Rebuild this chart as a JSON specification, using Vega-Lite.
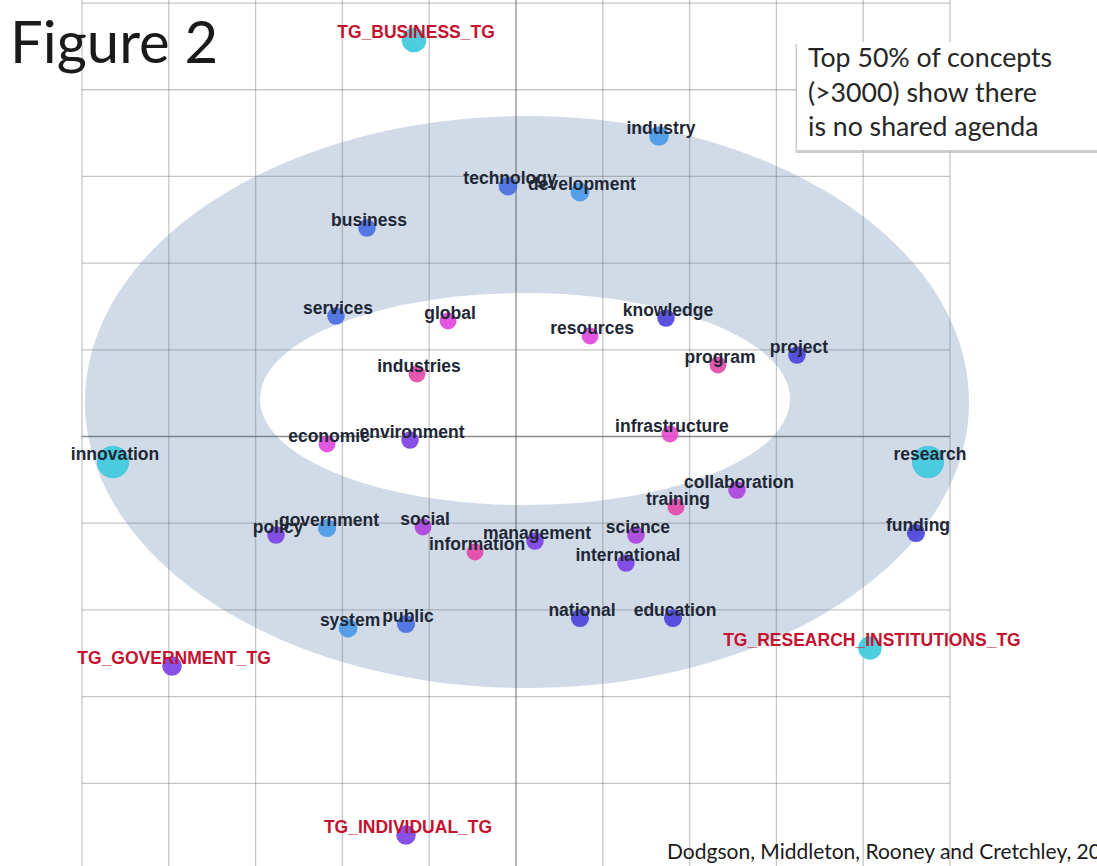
{
  "$schema": "https://vega.github.io/schema/vega-lite/v6.json",
  "width": 1097,
  "height": 866,
  "autosize": {"type": "none"},
  "padding": 0,
  "background": "white",
  "config": {"view": {"stroke": null}},
  "datasets": {
    "concepts": [
      {"term": "TG_BUSINESS_TG", "kind": "TG", "group": "cyan", "freq": 55, "x": -1.175, "y": 4.573},
      {"term": "industry", "kind": "concept", "group": "sky", "freq": 35, "x": 1.647, "y": 3.466},
      {"term": "technology", "kind": "concept", "group": "royal", "freq": 32, "x": -0.092, "y": 2.889},
      {"term": "development", "kind": "concept", "group": "sky", "freq": 32, "x": 0.737, "y": 2.82},
      {"term": "business", "kind": "concept", "group": "royal", "freq": 28, "x": -1.717, "y": 2.405},
      {"term": "services", "kind": "concept", "group": "royal", "freq": 28, "x": -2.074, "y": 1.39},
      {"term": "global", "kind": "concept", "group": "magenta", "freq": 26, "x": -0.783, "y": 1.332},
      {"term": "resources", "kind": "concept", "group": "magenta", "freq": 26, "x": 0.853, "y": 1.159},
      {"term": "knowledge", "kind": "concept", "group": "indigo", "freq": 28, "x": 1.728, "y": 1.367},
      {"term": "program", "kind": "concept", "group": "pink", "freq": 26, "x": 2.327, "y": 0.825},
      {"term": "project", "kind": "concept", "group": "indigo", "freq": 28, "x": 3.237, "y": 0.94},
      {"term": "industries", "kind": "concept", "group": "pink", "freq": 26, "x": -1.141, "y": 0.721},
      {"term": "infrastructure", "kind": "concept", "group": "pinkmag", "freq": 26, "x": 1.774, "y": 0.029},
      {"term": "economic", "kind": "concept", "group": "magenta", "freq": 26, "x": -2.177, "y": -0.087},
      {"term": "environment", "kind": "concept", "group": "purple", "freq": 28, "x": -1.221, "y": -0.04},
      {"term": "innovation", "kind": "concept", "group": "cyan", "freq": 95, "x": -4.643, "y": -0.294},
      {"term": "research", "kind": "concept", "group": "cyan", "freq": 95, "x": 4.747, "y": -0.294},
      {"term": "collaboration", "kind": "concept", "group": "violet", "freq": 28, "x": 2.546, "y": -0.617},
      {"term": "training", "kind": "concept", "group": "pink", "freq": 26, "x": 1.843, "y": -0.813},
      {"term": "government", "kind": "concept", "group": "sky", "freq": 30, "x": -2.177, "y": -1.055},
      {"term": "policy", "kind": "concept", "group": "purple", "freq": 28, "x": -2.765, "y": -1.136},
      {"term": "social", "kind": "concept", "group": "violet", "freq": 26, "x": -1.071, "y": -1.044},
      {"term": "management", "kind": "concept", "group": "purple", "freq": 28, "x": 0.219, "y": -1.205},
      {"term": "information", "kind": "concept", "group": "pink", "freq": 26, "x": -0.472, "y": -1.332},
      {"term": "science", "kind": "concept", "group": "violet", "freq": 28, "x": 1.382, "y": -1.136},
      {"term": "international", "kind": "concept", "group": "purple", "freq": 28, "x": 1.267, "y": -1.459},
      {"term": "funding", "kind": "concept", "group": "indigo", "freq": 30, "x": 4.608, "y": -1.113},
      {"term": "national", "kind": "concept", "group": "indigo", "freq": 30, "x": 0.737, "y": -2.093},
      {"term": "education", "kind": "concept", "group": "indigo", "freq": 30, "x": 1.809, "y": -2.093},
      {"term": "system", "kind": "concept", "group": "sky", "freq": 32, "x": -1.935, "y": -2.209},
      {"term": "public", "kind": "concept", "group": "royal", "freq": 30, "x": -1.267, "y": -2.163},
      {"term": "TG_GOVERNMENT_TG", "kind": "TG", "group": "purple", "freq": 35, "x": -3.963, "y": -2.647},
      {"term": "TG_RESEARCH_INSTITUTIONS_TG", "kind": "TG", "group": "cyan", "freq": 50, "x": 4.078, "y": -2.439},
      {"term": "TG_INDIVIDUAL_TG", "kind": "TG", "group": "purple", "freq": 35, "x": -1.267, "y": -4.596}
    ],
    "grid": [
      {"v": -5}, {"v": -4}, {"v": -3}, {"v": -2}, {"v": -1}, {"v": 0},
      {"v": 1}, {"v": 2}, {"v": 3}, {"v": 4}, {"v": 5}
    ]
  },
  "encoding": {
    "x": {"type": "quantitative", "axis": null, "scale": {"domain": [-5.945, 6.694], "nice": false, "zero": false}},
    "y": {"type": "quantitative", "axis": null, "scale": {"domain": [-4.954, 5.035], "nice": false, "zero": false}}
  },
  "layer": [
    {
      "data": {"values": [{"cx": 0.127, "cy": 0.398}]},
      "mark": {"type": "point", "filled": true, "color": "#d1dbe8", "opacity": 1, "strokeWidth": 0, "size": 781456,
        "shape": "M 1 0 C 1 0.3573 0.5523 0.647 0 0.647 C -0.5523 0.647 -1 0.3573 -1 0 C -1 -0.3573 -0.5523 -0.647 0 -0.647 C 0.5523 -0.647 1 -0.3573 1 0 Z"},
      "encoding": {"x": {"field": "cx", "type": "quantitative"}, "y": {"field": "cy", "type": "quantitative"}}
    },
    {
      "data": {"values": [{"cx": 0.104, "cy": 0.433}]},
      "mark": {"type": "point", "filled": true, "color": "#ffffff", "opacity": 1, "strokeWidth": 0, "size": 280900,
        "shape": "M 1 0 C 1 0.2209 0.5523 0.4 0 0.4 C -0.5523 0.4 -1 0.2209 -1 0 C -1 -0.2209 -0.5523 -0.4 0 -0.4 C 0.5523 -0.4 1 -0.2209 1 0 Z"},
      "encoding": {"x": {"field": "cx", "type": "quantitative"}, "y": {"field": "cy", "type": "quantitative"}}
    },
    {
      "data": {"name": "grid"},
      "mark": {"type": "rule", "strokeWidth": 1.3},
      "encoding": {
        "x": {"field": "v", "type": "quantitative"},
        "y": {"datum": -5},
        "y2": {"datum": 5.035},
        "color": {"condition": {"test": "datum.v === 0", "value": "#505050"}, "value": "#707070"},
        "opacity": {"condition": {"test": "datum.v === 0", "value": 0.65}, "value": 0.4}
      }
    },
    {
      "data": {"name": "grid"},
      "mark": {"type": "rule", "strokeWidth": 1.3},
      "encoding": {
        "y": {"field": "v", "type": "quantitative"},
        "x": {"datum": -5},
        "x2": {"datum": 5},
        "color": {"condition": {"test": "datum.v === 0", "value": "#505050"}, "value": "#707070"},
        "opacity": {"condition": {"test": "datum.v === 0", "value": 0.65}, "value": 0.4}
      }
    },
    {
      "data": {"name": "concepts"},
      "mark": {"type": "circle", "opacity": 0.92},
      "encoding": {
        "x": {"field": "x", "type": "quantitative"},
        "y": {"field": "y", "type": "quantitative"},
        "size": {"field": "freq", "type": "quantitative", "legend": null, "scale": {"domain": [0, 100], "range": [0, 1100]}},
        "color": {"field": "group", "type": "nominal", "legend": null,
          "scale": {"domain": ["cyan", "sky", "royal", "indigo", "purple", "violet", "magenta", "pink", "pinkmag"],
                    "range": ["#3ecadc", "#4a9ae6", "#4a6fe0", "#4c44dc", "#7c42e2", "#ac44dc", "#df48e0", "#e24aa8", "#e64ccc"]}}
      }
    },
    {
      "data": {"name": "concepts"},
      "mark": {"type": "text", "font": "Liberation Sans", "fontWeight": "bold", "fontSize": 17.5, "dx": 2, "dy": -7, "baseline": "middle", "align": "center"},
      "encoding": {
        "x": {"field": "x", "type": "quantitative"},
        "y": {"field": "y", "type": "quantitative"},
        "text": {"field": "term"},
        "color": {"condition": {"test": "datum.kind === 'TG'", "value": "#c4122f"}, "value": "#1e2736"}
      }
    },
    {
      "data": {"values": [{"x1": 3.22, "x2": 6.9, "y1": 4.53, "y2": 3.27}]},
      "mark": {"type": "rect", "color": "#b8b8b8", "opacity": 0.7},
      "encoding": {"x": {"field": "x1", "type": "quantitative"}, "x2": {"field": "x2"}, "y": {"field": "y1", "type": "quantitative"}, "y2": {"field": "y2"}}
    },
    {
      "data": {"values": [{"x1": 3.237, "x2": 6.9, "y1": 4.55, "y2": 3.305}]},
      "mark": {"type": "rect", "color": "#ffffff", "opacity": 1},
      "encoding": {"x": {"field": "x1", "type": "quantitative"}, "x2": {"field": "x2"}, "y": {"field": "y1", "type": "quantitative"}, "y2": {"field": "y2"}}
    },
    {
      "data": {"values": [
        {"line": "Top 50% of concepts", "x": 3.364, "y": 4.36},
        {"line": "(>3000) show there", "x": 3.364, "y": 3.955},
        {"line": "is no shared agenda", "x": 3.364, "y": 3.56}
      ]},
      "mark": {"type": "text", "font": "Lato", "fontSize": 26.7, "align": "left", "baseline": "middle", "color": "#262626"},
      "encoding": {"x": {"field": "x", "type": "quantitative"}, "y": {"field": "y", "type": "quantitative"}, "text": {"field": "line"}}
    },
    {
      "data": {"values": [{"label": "Figure 2", "x": -5.829, "y": 4.308}]},
      "mark": {"type": "text", "font": "Lato", "fontSize": 58, "align": "left", "baseline": "alphabetic", "color": "#1a1a1a"},
      "encoding": {"x": {"field": "x", "type": "quantitative"}, "y": {"field": "y", "type": "quantitative"}, "text": {"field": "label"}}
    },
    {
      "data": {"values": [{"label": "Dodgson, Middleton, Rooney and Cretchley, 20", "x": 1.74, "y": -4.873}]},
      "mark": {"type": "text", "font": "Lato", "fontSize": 21, "align": "left", "baseline": "alphabetic", "color": "#1a1a1a"},
      "encoding": {"x": {"field": "x", "type": "quantitative"}, "y": {"field": "y", "type": "quantitative"}, "text": {"field": "label"}}
    }
  ]
}
